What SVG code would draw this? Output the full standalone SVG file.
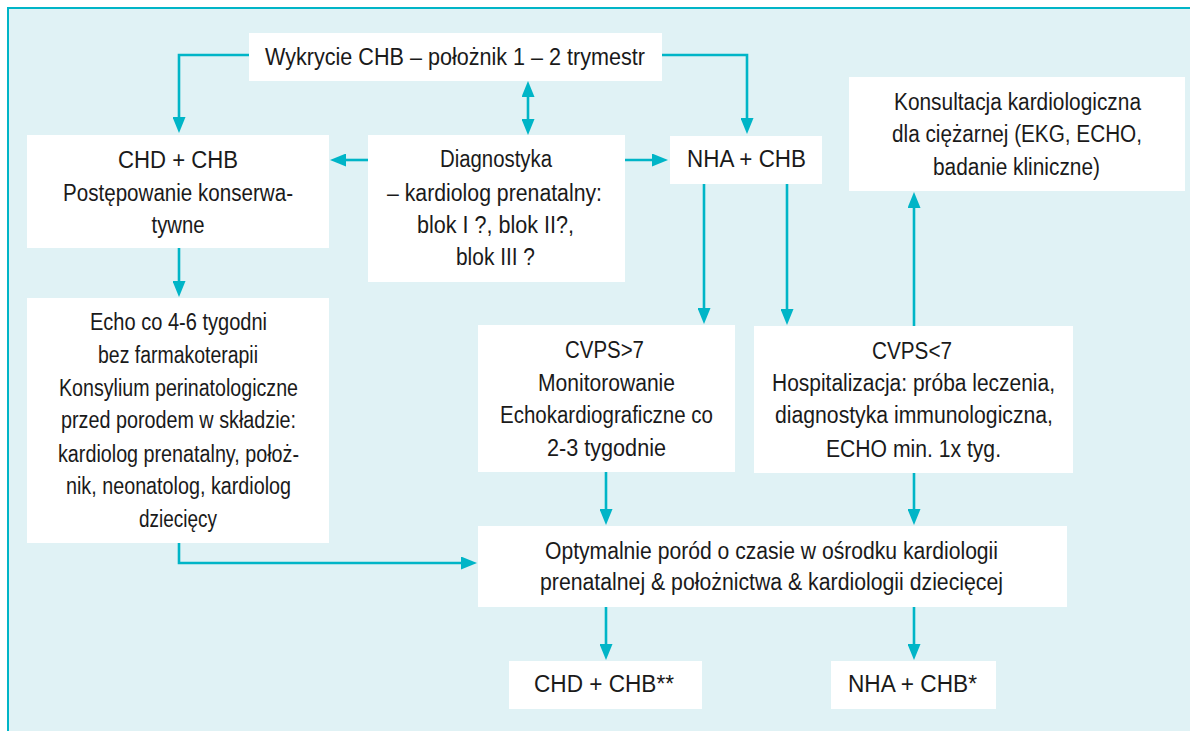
<svg xmlns="http://www.w3.org/2000/svg" width="1190" height="731" viewBox="0 0 1190 731">
  <style>
    .box { fill: #ffffff; stroke: none; }
    .lbl { font-family: "Liberation Sans", Arial, sans-serif; font-size: 23px; fill: #1a1a1a; text-anchor: middle; }
    .conn { fill: none; stroke: #00b5c7; stroke-width: 2.6; }
  </style>
  <defs>
    <marker id="arrow" viewBox="0 0 16 13" refX="6" refY="6.5" markerWidth="16" markerHeight="13" markerUnits="userSpaceOnUse" orient="auto-start-reverse">
      <path d="M0,0 L16,6.5 L0,13 z" fill="#00b5c7"/>
    </marker>
  </defs>

  <!-- panel background with frame -->
  <rect x="8" y="8" width="1200" height="740" fill="#e0f2f5" stroke="#00b5c7" stroke-width="2"/>

  <!-- connectors -->
  <g id="connectors" class="conn" marker-end="url(#arrow)">
    <path d="M249,55 H179 V123"/>
    <path d="M662,55 H747 V124"/>
    <path d="M528,91 V125" marker-start="url(#arrow)"/>
    <path d="M368,160 H340"/>
    <path d="M625,160 H658"/>
    <path d="M704,184 V314"/>
    <path d="M787,184 V315"/>
    <path d="M914,326 V202"/>
    <path d="M179,248 V287"/>
    <path d="M179,543 V563 H467"/>
    <path d="M606,472 V515"/>
    <path d="M914,473 V515"/>
    <path d="M606,607 V650"/>
    <path d="M914,607 V650"/>
  </g>

  <g id="detection">
    <rect class="box" x="249" y="33" width="413" height="48"/>
    <text class="lbl" x="455" y="65" textLength="380" lengthAdjust="spacingAndGlyphs">Wykrycie CHB – położnik 1 – 2 trymestr</text>
  </g>

  <g id="chd-chb">
    <rect class="box" x="27" y="135" width="302" height="113"/>
    <text class="lbl" x="178" y="168" textLength="120" lengthAdjust="spacingAndGlyphs">CHD + CHB</text>
    <text class="lbl" x="178" y="201" textLength="230" lengthAdjust="spacingAndGlyphs">Postępowanie konserwa-</text>
    <text class="lbl" x="178" y="233" textLength="53" lengthAdjust="spacingAndGlyphs">tywne</text>
  </g>

  <g id="diagnostics">
    <rect class="box" x="368" y="135" width="257" height="147"/>
    <text class="lbl" x="496" y="167" textLength="112" lengthAdjust="spacingAndGlyphs">Diagnostyka</text>
    <text class="lbl" x="494.5" y="201" textLength="215" lengthAdjust="spacingAndGlyphs">– kardiolog prenatalny:</text>
    <text class="lbl" x="495.5" y="233" textLength="157" lengthAdjust="spacingAndGlyphs">blok I ?, blok II?,</text>
    <text class="lbl" x="495.5" y="265" textLength="79" lengthAdjust="spacingAndGlyphs">blok III ?</text>
  </g>

  <g id="nha-chb">
    <rect class="box" x="670" y="136" width="152" height="48"/>
    <text class="lbl" x="746.5" y="167" textLength="119" lengthAdjust="spacingAndGlyphs">NHA + CHB</text>
  </g>

  <g id="consultation">
    <rect class="box" x="849" y="77" width="336" height="114"/>
    <text class="lbl" x="1017.5" y="110" textLength="247" lengthAdjust="spacingAndGlyphs">Konsultacja kardiologiczna</text>
    <text class="lbl" x="1017" y="142" textLength="250" lengthAdjust="spacingAndGlyphs">dla ciężarnej (EKG, ECHO,</text>
    <text class="lbl" x="1016.5" y="175" textLength="167" lengthAdjust="spacingAndGlyphs">badanie kliniczne)</text>
  </g>

  <g id="echo">
    <rect class="box" x="27" y="298" width="302" height="245"/>
    <text class="lbl" x="178.5" y="330" textLength="177" lengthAdjust="spacingAndGlyphs">Echo co 4-6 tygodni</text>
    <text class="lbl" x="178" y="363" textLength="160" lengthAdjust="spacingAndGlyphs">bez farmakoterapii</text>
    <text class="lbl" x="178.5" y="396" textLength="239" lengthAdjust="spacingAndGlyphs">Konsylium perinatologiczne</text>
    <text class="lbl" x="178.5" y="428" textLength="235" lengthAdjust="spacingAndGlyphs">przed porodem w składzie:</text>
    <text class="lbl" x="178.5" y="462" textLength="241" lengthAdjust="spacingAndGlyphs">kardiolog prenatalny, położ-</text>
    <text class="lbl" x="178.5" y="494" textLength="225" lengthAdjust="spacingAndGlyphs">nik, neonatolog, kardiolog</text>
    <text class="lbl" x="178" y="527" textLength="78" lengthAdjust="spacingAndGlyphs">dziecięcy</text>
  </g>

  <g id="cvps-high">
    <rect class="box" x="478" y="325" width="257" height="147"/>
    <text class="lbl" x="604.5" y="358" textLength="79" lengthAdjust="spacingAndGlyphs">CVPS&gt;7</text>
    <text class="lbl" x="606.5" y="391" textLength="137" lengthAdjust="spacingAndGlyphs">Monitorowanie</text>
    <text class="lbl" x="606.5" y="423" textLength="213" lengthAdjust="spacingAndGlyphs">Echokardiograficzne co</text>
    <text class="lbl" x="606.5" y="456" textLength="119" lengthAdjust="spacingAndGlyphs">2-3 tygodnie</text>
  </g>

  <g id="cvps-low">
    <rect class="box" x="754" y="326" width="319" height="147"/>
    <text class="lbl" x="912" y="359" textLength="80" lengthAdjust="spacingAndGlyphs">CVPS&lt;7</text>
    <text class="lbl" x="913.5" y="391" textLength="283" lengthAdjust="spacingAndGlyphs">Hospitalizacja: próba leczenia,</text>
    <text class="lbl" x="914" y="423" textLength="278" lengthAdjust="spacingAndGlyphs">diagnostyka immunologiczna,</text>
    <text class="lbl" x="913.5" y="457" textLength="175" lengthAdjust="spacingAndGlyphs">ECHO min. 1x tyg.</text>
  </g>

  <g id="delivery">
    <rect class="box" x="478" y="526" width="589" height="81"/>
    <text class="lbl" x="771.5" y="559" textLength="453" lengthAdjust="spacingAndGlyphs">Optymalnie poród o czasie w ośrodku kardiologii</text>
    <text class="lbl" x="771.5" y="590" textLength="463" lengthAdjust="spacingAndGlyphs">prenatalnej &amp; położnictwa &amp; kardiologii dziecięcej</text>
  </g>

  <g id="outcome-chd">
    <rect class="box" x="509" y="661" width="193" height="48"/>
    <text class="lbl" x="604" y="692" textLength="140" lengthAdjust="spacingAndGlyphs">CHD + CHB**</text>
  </g>

  <g id="outcome-nha">
    <rect class="box" x="831" y="661" width="165" height="48"/>
    <text class="lbl" x="912.5" y="692" textLength="129" lengthAdjust="spacingAndGlyphs">NHA + CHB*</text>
  </g>
</svg>
